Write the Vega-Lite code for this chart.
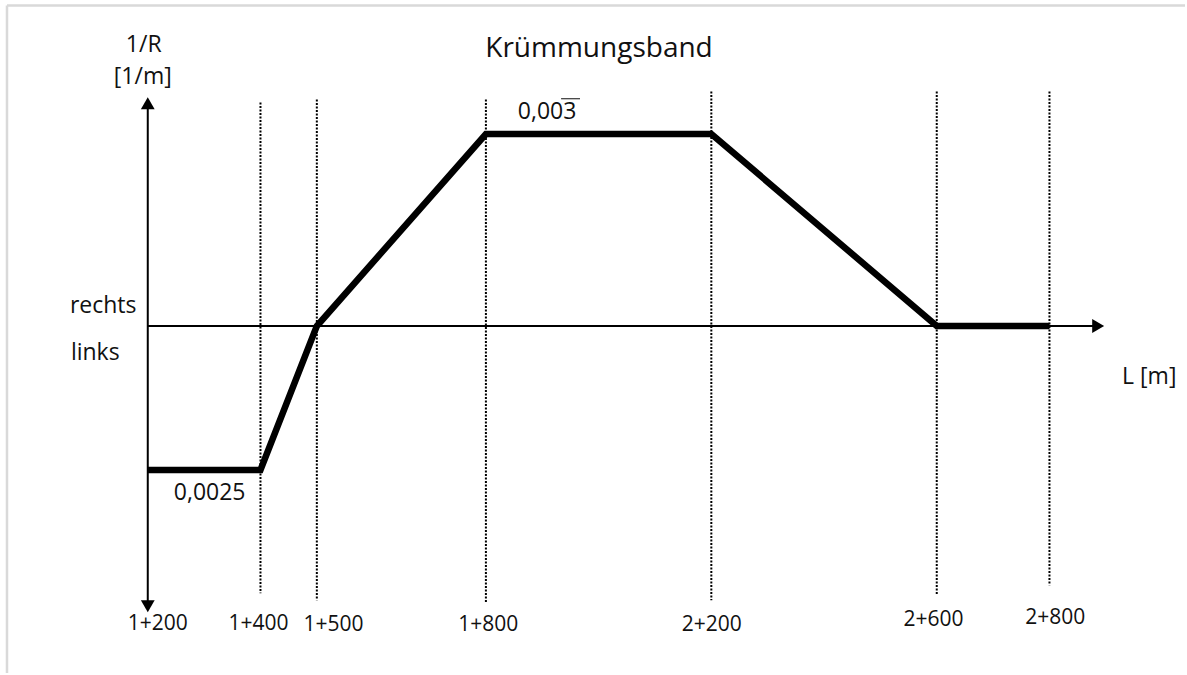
{
  "$schema": "https://vega.github.io/schema/vega-lite/v6.json",
  "width": 1187,
  "height": 675,
  "padding": 0,
  "autosize": {"type": "fit", "contains": "padding"},
  "background": "white",
  "config": {"view": {"stroke": null}, "text": {"font": "Open Sans", "color": "#111"}},
  "datasets": {
    "band": [
      {"L": 1200, "k": -0.0025},
      {"L": 1400, "k": -0.0025},
      {"L": 1500, "k": 0},
      {"L": 1800, "k": 0.0033333},
      {"L": 2200, "k": 0.0033333},
      {"L": 2600, "k": 0},
      {"L": 2800, "k": 0}
    ],
    "guides": [
      {"L": 1400, "top": 0.00388, "bot": -0.00464},
      {"L": 1500, "top": 0.00393, "bot": -0.00476},
      {"L": 1800, "top": 0.00393, "bot": -0.00481},
      {"L": 2200, "top": 0.00407, "bot": -0.00476},
      {"L": 2600, "top": 0.00407, "bot": -0.00467},
      {"L": 2800, "top": 0.00407, "bot": -0.0045}
    ],
    "axes": [
      {"x": 1200, "x2": 1200, "y": 0.00385, "y2": -0.00481},
      {"x": 1200, "x2": 2878, "y": 0, "y2": 0}
    ],
    "arrows": [
      {"x": 1200, "y": 0.003868, "shape": "triangle-up"},
      {"x": 1200, "y": -0.004863, "shape": "triangle-down"},
      {"x": 2886.4, "y": 0, "shape": "triangle-right"}
    ],
    "frame": [
      {"x": 950.2, "x2": 3040.5, "y": 0.005564, "y2": 0.005564},
      {"x": 950.2, "x2": 950.2, "y": 0.005564, "y2": -0.006023}
    ],
    "ticks": [
      {"x": 1217.7, "y": -0.005170, "label": "1+200"},
      {"x": 1396.6, "y": -0.005170, "label": "1+400"},
      {"x": 1529.5, "y": -0.00519, "label": "1+500"},
      {"x": 1804.0, "y": -0.00519, "label": "1+800"},
      {"x": 2200.8, "y": -0.00519, "label": "2+200"},
      {"x": 2594.1, "y": -0.005100, "label": "2+600"},
      {"x": 2810.2, "y": -0.005065, "label": "2+800"}
    ],
    "centerText": [
      {"x": 1192.9, "y": 0.004881, "label": "1/R"},
      {"x": 1191.1, "y": 0.004327, "label": "[1/m]"},
      {"x": 1309.8, "y": -0.00289, "label": "0,0025"},
      {"x": 1908.6, "y": 0.003721, "label": "0,003"}
    ],
    "leftText": [
      {"x": 1061.8, "y": 0.000346, "label": "rechts"},
      {"x": 1063.6, "y": -0.000467, "label": "links"},
      {"x": 2928.9, "y": -0.000883, "label": "L [m]"}
    ],
    "titleText": [
      {"x": 2000.7, "y": 0.004800, "label": "Krümmungsband"}
    ],
    "overline": [
      {"x": 1933.4, "x2": 1967.0, "y": 0.003946}
    ]
  },
  "layer": [
    {
      "data": {"name": "frame"},
      "mark": {"type": "rule", "color": "#d9d9d9", "strokeWidth": 2.5},
      "encoding": {
        "x": {"field": "x", "type": "quantitative", "scale": {"domain": [937.8, 3040.5], "nice": false, "zero": false}, "axis": null},
        "x2": {"field": "x2"},
        "y": {"field": "y", "type": "quantitative", "scale": {"domain": [-0.006023, 0.005659], "nice": false, "zero": false}, "axis": null},
        "y2": {"field": "y2"}
      }
    },
    {
      "data": {"name": "guides"},
      "mark": {"type": "rule", "color": "#000", "strokeWidth": 2, "strokeDash": [2, 1.5]},
      "encoding": {
        "x": {"field": "L", "type": "quantitative", "scale": {"domain": [937.8, 3040.5], "nice": false, "zero": false}, "axis": null},
        "y": {"field": "top", "type": "quantitative", "scale": {"domain": [-0.006023, 0.005659], "nice": false, "zero": false}, "axis": null},
        "y2": {"field": "bot"}
      }
    },
    {
      "data": {"name": "axes"},
      "mark": {"type": "rule", "color": "#000", "strokeWidth": 2},
      "encoding": {
        "x": {"field": "x", "type": "quantitative", "scale": {"domain": [937.8, 3040.5], "nice": false, "zero": false}, "axis": null},
        "x2": {"field": "x2"},
        "y": {"field": "y", "type": "quantitative", "scale": {"domain": [-0.006023, 0.005659], "nice": false, "zero": false}, "axis": null},
        "y2": {"field": "y2"}
      }
    },
    {
      "data": {"name": "band"},
      "mark": {"type": "line", "color": "#000", "strokeWidth": 6.5, "strokeJoin": "miter", "strokeCap": "butt"},
      "encoding": {
        "x": {"field": "L", "type": "quantitative", "scale": {"domain": [937.8, 3040.5], "nice": false, "zero": false}, "axis": null},
        "y": {"field": "k", "type": "quantitative", "scale": {"domain": [-0.006023, 0.005659], "nice": false, "zero": false}, "axis": null}
      }
    },
    {
      "data": {"name": "arrows"},
      "mark": {"type": "point", "filled": true, "color": "#000", "opacity": 1, "size": 190, "strokeWidth": 0},
      "encoding": {
        "x": {"field": "x", "type": "quantitative", "scale": {"domain": [937.8, 3040.5], "nice": false, "zero": false}, "axis": null},
        "y": {"field": "y", "type": "quantitative", "scale": {"domain": [-0.006023, 0.005659], "nice": false, "zero": false}, "axis": null},
        "shape": {"field": "shape", "type": "nominal", "scale": null, "legend": null}
      }
    },
    {
      "data": {"name": "overline"},
      "mark": {"type": "rule", "color": "#444", "strokeWidth": 1.3},
      "encoding": {
        "x": {"field": "x", "type": "quantitative", "scale": {"domain": [937.8, 3040.5], "nice": false, "zero": false}, "axis": null},
        "x2": {"field": "x2"},
        "y": {"field": "y", "type": "quantitative", "scale": {"domain": [-0.006023, 0.005659], "nice": false, "zero": false}, "axis": null}
      }
    },
    {
      "data": {"name": "ticks"},
      "mark": {"type": "text", "fontSize": 21, "align": "center", "baseline": "middle"},
      "encoding": {
        "x": {"field": "x", "type": "quantitative", "scale": {"domain": [937.8, 3040.5], "nice": false, "zero": false}, "axis": null},
        "y": {"field": "y", "type": "quantitative", "scale": {"domain": [-0.006023, 0.005659], "nice": false, "zero": false}, "axis": null},
        "text": {"field": "label"}
      }
    },
    {
      "data": {"name": "centerText"},
      "mark": {"type": "text", "fontSize": 23, "align": "center", "baseline": "middle"},
      "encoding": {
        "x": {"field": "x", "type": "quantitative", "scale": {"domain": [937.8, 3040.5], "nice": false, "zero": false}, "axis": null},
        "y": {"field": "y", "type": "quantitative", "scale": {"domain": [-0.006023, 0.005659], "nice": false, "zero": false}, "axis": null},
        "text": {"field": "label"}
      }
    },
    {
      "data": {"name": "leftText"},
      "mark": {"type": "text", "fontSize": 23, "align": "left", "baseline": "middle"},
      "encoding": {
        "x": {"field": "x", "type": "quantitative", "scale": {"domain": [937.8, 3040.5], "nice": false, "zero": false}, "axis": null},
        "y": {"field": "y", "type": "quantitative", "scale": {"domain": [-0.006023, 0.005659], "nice": false, "zero": false}, "axis": null},
        "text": {"field": "label"}
      }
    },
    {
      "data": {"name": "titleText"},
      "mark": {"type": "text", "fontSize": 28, "align": "center", "baseline": "middle"},
      "encoding": {
        "x": {"field": "x", "type": "quantitative", "scale": {"domain": [937.8, 3040.5], "nice": false, "zero": false}, "axis": null},
        "y": {"field": "y", "type": "quantitative", "scale": {"domain": [-0.006023, 0.005659], "nice": false, "zero": false}, "axis": null},
        "text": {"field": "label"}
      }
    }
  ]
}
